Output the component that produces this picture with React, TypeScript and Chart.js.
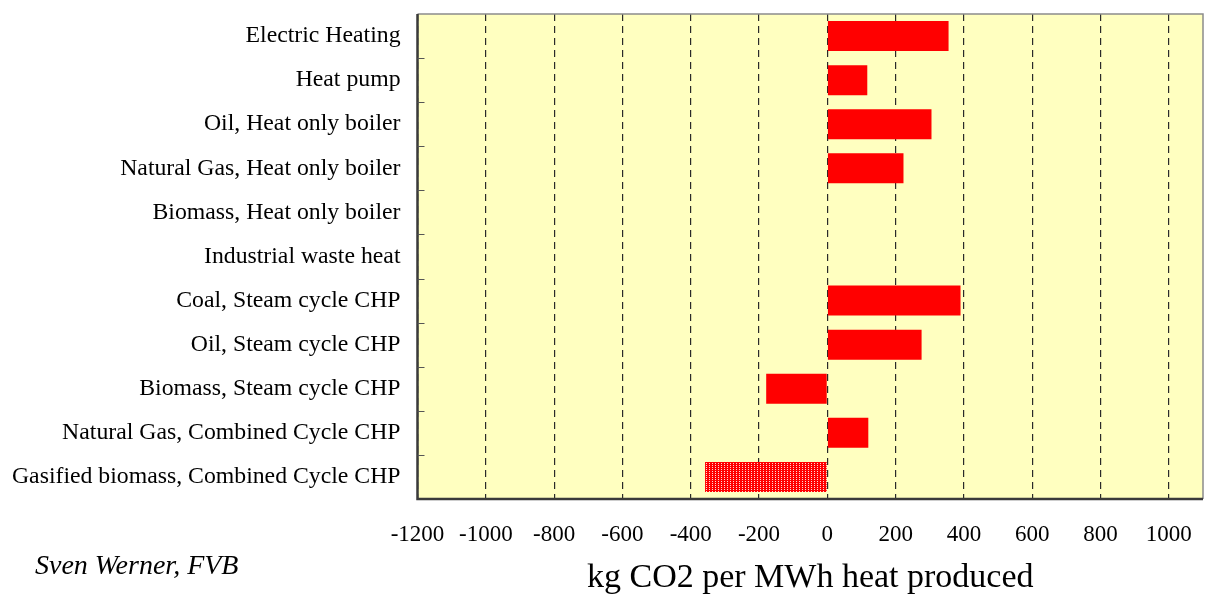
import React, { useEffect, useRef } from "react";
import { Chart, registerables } from "chart.js";

Chart.register(...registerables);

const categories = [
  "Electric Heating",
  "Heat pump",
  "Oil, Heat only boiler",
  "Natural Gas, Heat only boiler",
  "Biomass, Heat only boiler",
  "Industrial waste heat",
  "Coal, Steam cycle CHP",
  "Oil, Steam cycle CHP",
  "Biomass, Steam cycle CHP",
  "Natural Gas, Combined Cycle CHP",
  "Gasified biomass, Combined Cycle CHP",
];

// kg CO2 per MWh heat produced
const emissions = [355, 117, 305, 223, 0, 0, 390, 276, -179, 120, -358];

// the last technology is shown with a dotted fill
const dottedIndex = [10];

const xMin = -1200;
const xMax = 1100;
const xTicks = [-1200, -1000, -800, -600, -400, -200, 0, 200, 400, 600, 800, 1000];

const xTitle = "kg CO2 per MWh heat produced";
const author = "Sven Werner, FVB";

const SERIF = '"Liberation Serif", "Times New Roman", serif';

function makeDotPattern(ctx: CanvasRenderingContext2D): CanvasPattern | string {
  const c = document.createElement("canvas");
  c.width = 3;
  c.height = 4;
  const p = c.getContext("2d");
  if (!p) return "#ff0000";
  p.fillStyle = "#ff0000";
  p.fillRect(0, 0, 3, 4);
  p.fillStyle = "#ffd6d6";
  p.fillRect(1, 1, 1, 1);
  p.fillRect(1, 3, 1, 1);
  return ctx.createPattern(c, "repeat") || "#ff0000";
}

const framePlugin = {
  id: "frame",
  beforeDraw(chart: any) {
    const { ctx, chartArea: a } = chart;
    ctx.save();
    ctx.fillStyle = "#ffffc0";
    ctx.fillRect(a.left, a.top, a.right - a.left, a.bottom - a.top);
    ctx.restore();
  },
  afterDraw(chart: any) {
    const { ctx, chartArea: a } = chart;
    const y = chart.scales.y;
    ctx.save();
    // top and right edges: thin grey
    ctx.strokeStyle = "#8c8c8c";
    ctx.lineWidth = 1.5;
    ctx.beginPath();
    ctx.moveTo(a.left, a.top);
    ctx.lineTo(a.right, a.top);
    ctx.lineTo(a.right, a.bottom);
    ctx.stroke();
    // left and bottom edges: dark
    ctx.strokeStyle = "#3a3a3a";
    ctx.lineWidth = 2.5;
    ctx.beginPath();
    ctx.moveTo(a.left, a.top);
    ctx.lineTo(a.left, a.bottom);
    ctx.lineTo(a.right, a.bottom);
    ctx.stroke();
    // category separators as short inner ticks on the left edge
    const n = categories.length;
    const half = (y.getPixelForValue(1) - y.getPixelForValue(0)) / 2;
    ctx.strokeStyle = "#555";
    ctx.lineWidth = 1;
    for (let i = 1; i < n; i++) {
      const py = Math.round(y.getPixelForValue(i) - half) + 0.5;
      ctx.beginPath();
      ctx.moveTo(a.left, py);
      ctx.lineTo(a.left + 7, py);
      ctx.stroke();
    }
    // author note
    ctx.fillStyle = "#000";
    ctx.font = `italic 28px ${SERIF}`;
    ctx.textAlign = "left";
    ctx.textBaseline = "alphabetic";
    ctx.fillText(author, 35, 574);
    ctx.restore();
  },
};

export default function App() {
  const canvasRef = useRef<HTMLCanvasElement | null>(null);

  useEffect(() => {
    const canvas = canvasRef.current;
    if (!canvas) return;
    const ctx = canvas.getContext("2d")!;
    const pattern = makeDotPattern(ctx);
    const colors = emissions.map((_, i) => (dottedIndex.includes(i) ? pattern : "#ff0000"));

    const chart = new Chart(canvas, {
      type: "bar",
      data: {
        labels: categories,
        datasets: [
          {
            data: emissions,
            backgroundColor: colors as any,
            borderWidth: 0,
            barPercentage: 0.68,
            categoryPercentage: 1,
          },
        ],
      },
      options: {
        indexAxis: "y",
        animation: false,
        responsive: false,
        maintainAspectRatio: false,
        layout: { padding: { left: 0, top: 14, right: 2, bottom: 0 } },
        plugins: {
          legend: { display: false },
          tooltip: { enabled: false },
          title: { display: false },
        },
        scales: {
          x: {
            type: "linear",
            min: xMin,
            max: xMax,
            ticks: {
              color: "#000",
              font: { family: SERIF, size: 23 },
              padding: 22,
              maxRotation: 0,
              autoSkip: false,
              callback: (v: any) => String(v),
            },
            afterBuildTicks(scale: any) {
              scale.ticks = xTicks.map((value) => ({ value }));
            },
            afterFit(scale: any) {
              scale.height = 96;
              scale.paddingLeft = 0;
              scale.paddingRight = 0;
            },
            grid: {
              color: "#2a2a2a",
              lineWidth: 1.2,
              drawTicks: false,
            },
            border: { display: false, dash: [7, 5] },
            title: {
              display: true,
              text: xTitle,
              color: "#000",
              font: { family: SERIF, size: 34, lineHeight: 1 },
              padding: 0,
            },
          },
          y: {
            type: "category",
            ticks: {
              color: "#000",
              font: { family: SERIF, size: 23.75 },
              padding: 17,
              autoSkip: false,
            },
            afterFit(scale: any) {
              scale.width = 417.5;
              scale.paddingTop = 0;
              scale.paddingBottom = 0;
            },
            grid: { display: false, drawTicks: false },
            border: { display: false },
          },
        },
      },
      plugins: [framePlugin],
    });

    return () => chart.destroy();
  }, []);

  return (
    <div style={{ position: "absolute", left: 0, top: 0, width: 1205, height: 595, background: "#fff" }}>
      <canvas ref={canvasRef} width={1205} height={595} style={{ display: "block" }} />
    </div>
  );
}
